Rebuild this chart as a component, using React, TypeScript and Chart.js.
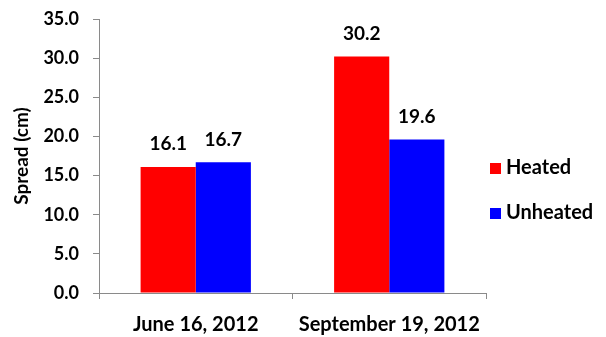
import React, { useEffect, useRef } from "react";
import { Chart, registerables } from "chart.js";

Chart.register(...registerables);

const categories = ["June 16, 2012", "September 19, 2012"];
const heated = [16.1, 30.2];
const unheated = [16.7, 19.6];
const seriesNames = ["Heated", "Unheated"];
const seriesColors = ["#ff0000", "#0000ff"];
const yTicks = [0, 5, 10, 15, 20, 25, 30, 35];

const FONT = "Lato, 'Open Sans', sans-serif";
const AXIS = "#8a8a8a";

const valueLabels = {
  id: "valueLabels",
  afterDatasetsDraw(chart: any) {
    const ctx = chart.ctx;
    ctx.save();
    ctx.font = `bold 19px ${FONT}`;
    ctx.fillStyle = "#000";
    ctx.textAlign = "center";
    ctx.textBaseline = "alphabetic";
    chart.data.datasets.forEach((ds: any, i: number) => {
      const meta = chart.getDatasetMeta(i);
      meta.data.forEach((bar: any, j: number) => {
        ctx.fillText(Number(ds.data[j]).toFixed(1), bar.x, bar.y - 16.5);
      });
    });
    ctx.restore();
  },
};

const sideLegend = {
  id: "sideLegend",
  afterDraw(chart: any) {
    const ctx = chart.ctx;
    ctx.save();
    ctx.font = `bold 20px ${FONT}`;
    ctx.textBaseline = "middle";
    ctx.textAlign = "left";
    const x = chart.chartArea.right + 4;
    const y0 = 168;
    chart.data.datasets.forEach((ds: any, i: number) => {
      const y = y0 + i * 45;
      ctx.fillStyle = ds.backgroundColor;
      ctx.fillRect(x, y - 5, 11, 11);
      ctx.fillStyle = "#000";
      ctx.fillText(ds.label, x + 16, y);
    });
    ctx.restore();
  },
};

export default function App() {
  const ref = useRef<HTMLCanvasElement>(null);
  useEffect(() => {
    if (!ref.current) return;
    const chart = new Chart(ref.current, {
      type: "bar",
      data: {
        labels: categories,
        datasets: [
          { label: seriesNames[0], data: heated, backgroundColor: seriesColors[0] },
          { label: seriesNames[1], data: unheated, backgroundColor: seriesColors[1] },
        ],
      },
      options: {
        animation: false,
        responsive: true,
        maintainAspectRatio: false,
        layout: { padding: { top: 19, right: 120, bottom: 0, left: 0 } },
        datasets: { bar: { categoryPercentage: 0.57, barPercentage: 1 } },
        plugins: { legend: { display: false }, tooltip: { enabled: false } },
        scales: {
          x: {
            grid: { drawOnChartArea: false, offset: true, tickLength: 6, color: AXIS },
            border: { color: AXIS },
            ticks: { color: "#000", font: { family: FONT, size: 20, weight: "bold" }, padding: 14 },
            afterFit: (axis: any) => {
              axis.height = 44;
              axis.paddingLeft = 0;
              axis.paddingRight = 0;
            },
          },
          y: {
            min: 0,
            max: 35,
            afterBuildTicks: (axis: any) => {
              axis.ticks = yTicks.map((v) => ({ value: v }));
            },
            afterFit: (axis: any) => {
              axis.width = 99;
              axis.paddingTop = 0;
              axis.paddingBottom = 0;
            },
            grid: { drawOnChartArea: false, tickLength: 6, color: AXIS },
            border: { color: AXIS },
            ticks: {
              color: "#000",
              font: { family: FONT, size: 18, weight: "bold" },
              padding: 14,
              callback: (v: any) => Number(v).toFixed(1),
            },
            title: {
              display: true,
              text: "Spread (cm)",
              color: "#000",
              font: { family: FONT, size: 19, weight: "bold" },
              padding: { top: 10, bottom: 0 },
            },
          },
        },
      },
      plugins: [valueLabels, sideLegend],
    });
    return () => chart.destroy();
  }, []);
  return (
    <div style={{ position: "absolute", left: 0, top: 0, width: 606, height: 337, background: "#fff" }}>
      <canvas ref={ref} />
    </div>
  );
}
